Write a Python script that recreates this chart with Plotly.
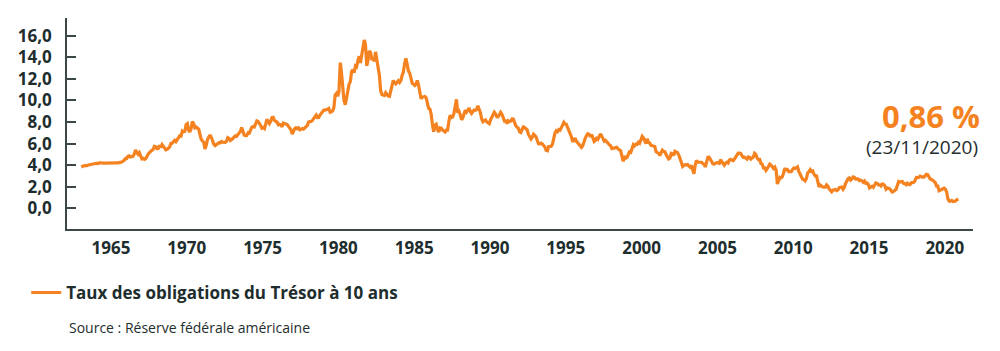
import plotly.graph_objects as go
import pandas as pd

# Monthly 10-year Treasury yields (%)
yields_by_year = {
    1963: [3.83, 3.92, 3.93, 3.97, 3.93, 3.99, 4.02, 4.00, 4.08, 4.11, 4.12, 4.13],
    1964: [4.17, 4.15, 4.22, 4.23, 4.20, 4.17, 4.19, 4.19, 4.20, 4.19, 4.15, 4.18],
    1965: [4.19, 4.21, 4.21, 4.20, 4.21, 4.21, 4.20, 4.25, 4.29, 4.35, 4.45, 4.62],
    1966: [4.61, 4.83, 4.87, 4.75, 4.78, 4.81, 5.02, 5.40, 5.18, 5.01, 5.16, 4.84],
    1967: [4.58, 4.63, 4.54, 4.59, 4.85, 5.02, 5.16, 5.28, 5.30, 5.48, 5.75, 5.70],
    1968: [5.53, 5.56, 5.84, 5.64, 5.90, 5.72, 5.50, 5.42, 5.46, 5.58, 5.70, 6.03],
    1969: [6.04, 6.19, 6.30, 6.17, 6.32, 6.57, 6.72, 6.69, 7.16, 7.10, 7.14, 7.75],
    1970: [7.85, 7.24, 7.07, 7.39, 8.05, 7.84, 7.46, 7.53, 7.39, 7.33, 6.84, 6.39],
    1971: [6.24, 6.11, 5.50, 5.83, 6.39, 6.60, 6.80, 6.58, 6.14, 5.93, 5.81, 5.93],
    1972: [5.95, 6.08, 6.07, 6.19, 6.13, 6.11, 6.11, 6.21, 6.55, 6.48, 6.28, 6.36],
    1973: [6.46, 6.64, 6.71, 6.67, 6.85, 6.90, 7.13, 7.50, 7.09, 6.79, 6.73, 6.74],
    1974: [6.99, 6.96, 7.21, 7.51, 7.58, 7.54, 7.81, 8.10, 8.04, 7.90, 7.68, 7.43],
    1975: [7.50, 7.39, 7.73, 8.23, 8.06, 7.86, 8.06, 8.40, 8.43, 8.14, 8.05, 8.00],
    1976: [7.74, 7.79, 7.73, 7.56, 7.90, 7.86, 7.83, 7.77, 7.59, 7.41, 7.29, 6.87],
    1977: [7.21, 7.39, 7.46, 7.37, 7.46, 7.28, 7.33, 7.40, 7.34, 7.52, 7.58, 7.69],
    1978: [8.01, 8.03, 8.04, 8.15, 8.35, 8.46, 8.64, 8.41, 8.42, 8.64, 8.81, 9.01],
    1979: [9.10, 9.10, 9.12, 9.18, 9.25, 8.91, 8.95, 9.03, 9.33, 10.50, 10.65, 10.39],
    1980: [10.80, 13.50, 12.60, 11.20, 10.00, 9.60, 10.25, 11.10, 11.51, 11.75, 12.68, 12.84],
    1981: [12.57, 13.19, 13.12, 13.68, 14.10, 13.47, 14.28, 14.94, 15.60, 15.15, 13.20, 13.72],
    1982: [14.59, 14.43, 13.86, 13.87, 13.62, 14.50, 13.95, 13.06, 12.34, 10.91, 10.55, 10.54],
    1983: [10.46, 10.72, 10.51, 10.40, 10.38, 10.85, 11.38, 11.85, 11.65, 11.54, 11.69, 11.83],
    1984: [11.67, 11.84, 12.32, 12.63, 13.41, 13.90, 13.36, 12.72, 12.52, 12.16, 11.57, 11.50],
    1985: [11.38, 11.51, 11.86, 11.43, 10.85, 10.16, 10.31, 10.33, 10.37, 10.24, 9.78, 9.26],
    1986: [9.19, 8.70, 7.78, 7.10, 7.71, 7.80, 7.30, 7.07, 7.45, 7.43, 7.25, 7.11],
    1987: [7.08, 7.25, 7.25, 8.02, 8.61, 8.40, 8.45, 8.76, 9.42, 10.10, 8.86, 8.99],
    1988: [8.67, 8.21, 8.37, 8.72, 9.09, 8.92, 9.06, 9.30, 8.98, 8.80, 8.96, 9.11],
    1989: [9.09, 9.17, 9.50, 9.18, 8.86, 8.28, 8.02, 8.11, 8.19, 8.01, 7.87, 7.84],
    1990: [8.21, 8.47, 8.59, 8.90, 8.76, 8.48, 8.47, 8.75, 8.89, 8.72, 8.39, 8.08],
    1991: [8.09, 7.85, 8.11, 8.04, 8.07, 8.28, 8.27, 7.90, 7.65, 7.53, 7.42, 7.09],
    1992: [7.03, 7.34, 7.54, 7.48, 7.39, 7.26, 6.84, 6.59, 6.42, 6.59, 6.87, 6.77],
    1993: [6.60, 6.26, 5.98, 5.97, 6.04, 5.96, 5.81, 5.68, 5.36, 5.33, 5.72, 5.77],
    1994: [5.75, 5.97, 6.48, 6.97, 7.18, 7.10, 7.30, 7.24, 7.46, 7.74, 7.96, 7.81],
    1995: [7.78, 7.47, 7.20, 7.06, 6.63, 6.17, 6.28, 6.49, 6.20, 6.04, 5.93, 5.71],
    1996: [5.65, 5.81, 6.27, 6.51, 6.74, 6.91, 6.87, 6.64, 6.83, 6.53, 6.20, 6.30],
    1997: [6.58, 6.42, 6.69, 6.89, 6.71, 6.49, 6.22, 6.30, 6.21, 6.03, 5.88, 5.81],
    1998: [5.54, 5.57, 5.65, 5.64, 5.65, 5.50, 5.46, 5.34, 4.81, 4.35, 4.83, 4.65],
    1999: [4.72, 5.00, 5.23, 5.18, 5.54, 5.90, 5.79, 5.94, 5.92, 6.11, 6.03, 6.28],
    2000: [6.66, 6.52, 6.26, 5.99, 6.44, 6.10, 6.05, 5.83, 5.80, 5.74, 5.72, 5.24],
    2001: [5.16, 5.10, 4.89, 5.14, 5.39, 5.28, 5.24, 4.97, 4.73, 4.57, 4.65, 5.09],
    2002: [5.04, 4.91, 5.28, 5.21, 5.16, 4.93, 4.65, 4.26, 3.87, 3.94, 4.05, 4.03],
    2003: [4.05, 3.90, 3.81, 3.96, 3.57, 3.20, 3.98, 4.45, 4.27, 4.29, 4.30, 4.27],
    2004: [4.15, 4.08, 3.83, 4.35, 4.72, 4.73, 4.50, 4.28, 4.13, 4.10, 4.19, 4.23],
    2005: [4.22, 4.17, 4.50, 4.34, 4.14, 4.00, 4.18, 4.26, 4.20, 4.46, 4.54, 4.47],
    2006: [4.42, 4.57, 4.72, 4.99, 5.11, 5.11, 5.09, 4.88, 4.72, 4.73, 4.60, 4.56],
    2007: [4.76, 4.72, 4.56, 4.69, 4.75, 5.10, 5.00, 4.67, 4.52, 4.53, 4.15, 4.10],
    2008: [3.74, 3.74, 3.51, 3.68, 3.88, 4.10, 4.01, 3.89, 3.69, 3.81, 3.53, 2.25],
    2009: [2.52, 2.87, 2.82, 2.93, 3.29, 3.72, 3.56, 3.59, 3.40, 3.39, 3.40, 3.59],
    2010: [3.73, 3.69, 3.73, 3.85, 3.42, 3.20, 3.01, 2.70, 2.65, 2.54, 2.76, 3.29],
    2011: [3.39, 3.58, 3.41, 3.46, 3.17, 3.00, 3.00, 2.30, 1.98, 2.15, 2.01, 1.98],
    2012: [1.97, 1.97, 2.17, 2.05, 1.80, 1.62, 1.53, 1.68, 1.72, 1.75, 1.65, 1.72],
    2013: [1.91, 1.98, 1.96, 1.76, 1.93, 2.30, 2.58, 2.74, 2.81, 2.62, 2.72, 2.90],
    2014: [2.86, 2.71, 2.72, 2.71, 2.56, 2.60, 2.54, 2.42, 2.53, 2.30, 2.33, 2.21],
    2015: [1.88, 1.98, 2.04, 1.94, 2.20, 2.36, 2.32, 2.17, 2.17, 2.07, 2.26, 2.24],
    2016: [2.09, 1.78, 1.89, 1.81, 1.81, 1.64, 1.50, 1.56, 1.63, 1.76, 2.14, 2.49],
    2017: [2.43, 2.42, 2.48, 2.30, 2.30, 2.19, 2.32, 2.21, 2.20, 2.36, 2.35, 2.40],
    2018: [2.58, 2.86, 2.84, 2.87, 2.98, 2.91, 2.89, 2.89, 3.00, 3.15, 3.12, 2.83],
    2019: [2.71, 2.68, 2.57, 2.53, 2.40, 2.07, 2.06, 1.63, 1.70, 1.71, 1.81, 1.86],
    2020: [1.76, 1.50, 0.87, 0.66, 0.67, 0.73, 0.62, 0.65, 0.68, 0.79],
}
last_date = "2020-11-23"
last_value = 0.86

tick_years = [1965, 1970, 1975, 1980, 1985, 1990, 1995, 2000, 2005, 2010, 2015, 2020]
y_ticks = [0, 2, 4, 6, 8, 10, 12, 14, 16]

series_name = "Taux des obligations du Trésor à 10 ans"
source_text = "Source : Réserve fédérale américaine"
value_label = "0,86 %"
date_label = "(23/11/2020)"

ORANGE = "#F58220"
DARK = "#1E2D2D"
AXIS = "#3C4848"
FONT = "Open Sans"

dates, values = [], []
for yr, vals in yields_by_year.items():
    for m, v in enumerate(vals):
        dates.append(pd.Timestamp(year=yr, month=m + 1, day=15))
        values.append(v)
dates.append(pd.Timestamp(last_date))
values.append(last_value)

fig = go.Figure()
fig.add_trace(go.Scatter(
    x=dates, y=values, mode="lines", name=series_name,
    line=dict(color=ORANGE, width=3.2),
    hoverinfo="skip",
))

fig.update_layout(
    width=1000, height=351,
    margin=dict(l=67, r=27, t=18, b=122),
    paper_bgcolor="white", plot_bgcolor="white",
    separators=", ",
    showlegend=True,
    legend=dict(
        x=-0.045, y=-0.303, xanchor="left", yanchor="middle",
        font=dict(family=FONT, size=17, color=DARK, weight=700),
        bgcolor="rgba(0,0,0,0)",
    ),
    xaxis=dict(
        range=["1962-02-06", "2021-11-10"],
        tickvals=[pd.Timestamp(year=y, month=1, day=1) for y in tick_years],
        ticktext=[str(y) for y in tick_years],
        showline=True, linecolor=AXIS, linewidth=1.5,
        showgrid=False, zeroline=False, ticks="",
        ticklabelstandoff=3,
        tickfont=dict(family=FONT, size=17, color=DARK, weight=700),
    ),
    yaxis=dict(
        range=[-1.92, 17.64],
        tickvals=y_ticks, tickformat=".1f",
        showline=True, linecolor=AXIS, linewidth=1.5,
        showgrid=False, zeroline=False,
        ticks="inside", ticklen=9, tickcolor=AXIS, tickwidth=1.5,
        ticklabelstandoff=10,
        tickfont=dict(family=FONT, size=17, color=DARK, weight=700),
    ),
    annotations=[
        dict(text=value_label, xref="paper", yref="paper", x=1.0099, y=0.535,
             xanchor="right", yanchor="middle", showarrow=False,
             font=dict(family=FONT, size=31, color=ORANGE, weight=700)),
        dict(text=date_label, xref="paper", yref="paper", x=1.0077, y=0.39,
             xanchor="right", yanchor="middle", showarrow=False,
             font=dict(family=FONT, size=19, color=DARK)),
        dict(text=source_text, xref="paper", yref="paper", x=0.0, y=-0.4645,
             xanchor="left", yanchor="middle", showarrow=False,
             font=dict(family=FONT, size=14, color=DARK)),
    ],
)

fig.write_html("out.html")
